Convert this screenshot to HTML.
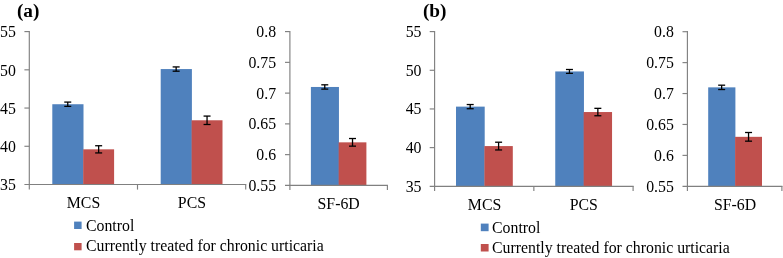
<!DOCTYPE html>
<html><head><meta charset="utf-8"><title>Figure</title>
<style>html,body{margin:0;padding:0;background:#fff;overflow:hidden}svg{display:block}text{font-family:"Liberation Serif","DejaVu Serif",serif;fill:#000}</style>
</head><body>
<svg width="783" height="258" viewBox="0 0 783 258">
<rect width="783" height="258" fill="#fff"/>
<text x="16.90" y="17.30" text-anchor="start" font-size="19.3" font-weight="bold">(a)</text>
<rect x="52.30" y="104.23" width="31.20" height="80.27" fill="#4F81BD"/>
<rect x="83.20" y="149.33" width="30.90" height="35.17" fill="#C0504D"/>
<line x1="67.75" y1="102.09" x2="67.75" y2="106.37" stroke="#000" stroke-width="1.3"/>
<line x1="64.25" y1="102.09" x2="71.25" y2="102.09" stroke="#000" stroke-width="1.3"/>
<line x1="64.25" y1="106.37" x2="71.25" y2="106.37" stroke="#000" stroke-width="1.3"/>
<line x1="98.65" y1="145.74" x2="98.65" y2="152.93" stroke="#000" stroke-width="1.3"/>
<line x1="95.15" y1="145.74" x2="102.15" y2="145.74" stroke="#000" stroke-width="1.3"/>
<line x1="95.15" y1="152.93" x2="102.15" y2="152.93" stroke="#000" stroke-width="1.3"/>
<text x="83.50" y="208.20" text-anchor="middle" font-size="15.8">MCS</text>
<rect x="160.70" y="69.06" width="31.20" height="115.44" fill="#4F81BD"/>
<rect x="191.60" y="120.28" width="30.90" height="64.22" fill="#C0504D"/>
<line x1="176.15" y1="66.92" x2="176.15" y2="71.20" stroke="#000" stroke-width="1.3"/>
<line x1="172.65" y1="66.92" x2="179.65" y2="66.92" stroke="#000" stroke-width="1.3"/>
<line x1="172.65" y1="71.20" x2="179.65" y2="71.20" stroke="#000" stroke-width="1.3"/>
<line x1="207.05" y1="116.08" x2="207.05" y2="124.49" stroke="#000" stroke-width="1.3"/>
<line x1="203.55" y1="116.08" x2="210.55" y2="116.08" stroke="#000" stroke-width="1.3"/>
<line x1="203.55" y1="124.49" x2="210.55" y2="124.49" stroke="#000" stroke-width="1.3"/>
<text x="191.90" y="208.20" text-anchor="middle" font-size="15.8">PCS</text>
<line x1="29.30" y1="31.03" x2="29.30" y2="189.60" stroke="#808080" stroke-width="1.15"/>
<line x1="24.40" y1="184.50" x2="246.27" y2="184.50" stroke="#808080" stroke-width="1.15"/>
<line x1="24.40" y1="31.60" x2="29.30" y2="31.60" stroke="#808080" stroke-width="1.15"/>
<text x="15.90" y="37.40" text-anchor="end" font-size="15.8">55</text>
<line x1="24.40" y1="69.83" x2="29.30" y2="69.83" stroke="#808080" stroke-width="1.15"/>
<text x="15.90" y="75.62" text-anchor="end" font-size="15.8">50</text>
<line x1="24.40" y1="108.05" x2="29.30" y2="108.05" stroke="#808080" stroke-width="1.15"/>
<text x="15.90" y="113.85" text-anchor="end" font-size="15.8">45</text>
<line x1="24.40" y1="146.28" x2="29.30" y2="146.28" stroke="#808080" stroke-width="1.15"/>
<text x="15.90" y="152.08" text-anchor="end" font-size="15.8">40</text>
<text x="15.90" y="190.30" text-anchor="end" font-size="15.8">35</text>
<line x1="137.50" y1="184.50" x2="137.50" y2="189.60" stroke="#808080" stroke-width="1.15"/>
<line x1="245.70" y1="184.50" x2="245.70" y2="189.60" stroke="#808080" stroke-width="1.15"/>
<rect x="310.90" y="86.97" width="28.05" height="98.43" fill="#4F81BD"/>
<rect x="338.65" y="142.34" width="27.75" height="43.06" fill="#C0504D"/>
<line x1="324.77" y1="84.81" x2="324.77" y2="89.12" stroke="#000" stroke-width="1.3"/>
<line x1="321.27" y1="84.81" x2="328.27" y2="84.81" stroke="#000" stroke-width="1.3"/>
<line x1="321.27" y1="89.12" x2="328.27" y2="89.12" stroke="#000" stroke-width="1.3"/>
<line x1="352.52" y1="138.52" x2="352.52" y2="146.15" stroke="#000" stroke-width="1.3"/>
<line x1="349.02" y1="138.52" x2="356.02" y2="138.52" stroke="#000" stroke-width="1.3"/>
<line x1="349.02" y1="146.15" x2="356.02" y2="146.15" stroke="#000" stroke-width="1.3"/>
<text x="338.65" y="209.40" text-anchor="middle" font-size="15.8">SF-6D</text>
<line x1="289.90" y1="31.03" x2="289.90" y2="190.10" stroke="#808080" stroke-width="1.15"/>
<line x1="285.00" y1="185.40" x2="387.97" y2="185.40" stroke="#808080" stroke-width="1.15"/>
<line x1="285.00" y1="31.60" x2="289.90" y2="31.60" stroke="#808080" stroke-width="1.15"/>
<text x="276.10" y="37.00" text-anchor="end" font-size="15.8">0.8</text>
<line x1="285.00" y1="62.36" x2="289.90" y2="62.36" stroke="#808080" stroke-width="1.15"/>
<text x="276.10" y="67.76" text-anchor="end" font-size="15.8">0.75</text>
<line x1="285.00" y1="93.12" x2="289.90" y2="93.12" stroke="#808080" stroke-width="1.15"/>
<text x="276.10" y="98.52" text-anchor="end" font-size="15.8">0.7</text>
<line x1="285.00" y1="123.88" x2="289.90" y2="123.88" stroke="#808080" stroke-width="1.15"/>
<text x="276.10" y="129.28" text-anchor="end" font-size="15.8">0.65</text>
<line x1="285.00" y1="154.64" x2="289.90" y2="154.64" stroke="#808080" stroke-width="1.15"/>
<text x="276.10" y="160.04" text-anchor="end" font-size="15.8">0.6</text>
<text x="276.10" y="190.80" text-anchor="end" font-size="15.8">0.55</text>
<line x1="387.40" y1="185.40" x2="387.40" y2="190.10" stroke="#808080" stroke-width="1.15"/>
<rect x="74.10" y="221.60" width="7.50" height="7.40" fill="#4F81BD"/>
<text x="86.00" y="230.50" text-anchor="start" font-size="15.8">Control</text>
<rect x="74.10" y="243.00" width="7.50" height="7.30" fill="#C0504D"/>
<text x="86.00" y="251.20" text-anchor="start" font-size="15.8">Currently treated for chronic urticaria</text>
<text x="422.90" y="17.30" text-anchor="start" font-size="19.3" font-weight="bold">(b)</text>
<rect x="456.00" y="106.63" width="28.70" height="79.67" fill="#4F81BD"/>
<rect x="484.40" y="146.08" width="28.40" height="40.22" fill="#C0504D"/>
<line x1="470.20" y1="104.54" x2="470.20" y2="108.72" stroke="#000" stroke-width="1.3"/>
<line x1="466.70" y1="104.54" x2="473.70" y2="104.54" stroke="#000" stroke-width="1.3"/>
<line x1="466.70" y1="108.72" x2="473.70" y2="108.72" stroke="#000" stroke-width="1.3"/>
<line x1="498.60" y1="142.21" x2="498.60" y2="149.95" stroke="#000" stroke-width="1.3"/>
<line x1="495.10" y1="142.21" x2="502.10" y2="142.21" stroke="#000" stroke-width="1.3"/>
<line x1="495.10" y1="149.95" x2="502.10" y2="149.95" stroke="#000" stroke-width="1.3"/>
<text x="484.55" y="209.90" text-anchor="middle" font-size="15.8">MCS</text>
<rect x="555.25" y="71.44" width="28.70" height="114.86" fill="#4F81BD"/>
<rect x="583.65" y="112.04" width="28.40" height="74.26" fill="#C0504D"/>
<line x1="569.45" y1="69.50" x2="569.45" y2="73.37" stroke="#000" stroke-width="1.3"/>
<line x1="565.95" y1="69.50" x2="572.95" y2="69.50" stroke="#000" stroke-width="1.3"/>
<line x1="565.95" y1="73.37" x2="572.95" y2="73.37" stroke="#000" stroke-width="1.3"/>
<line x1="597.85" y1="108.33" x2="597.85" y2="115.76" stroke="#000" stroke-width="1.3"/>
<line x1="594.35" y1="108.33" x2="601.35" y2="108.33" stroke="#000" stroke-width="1.3"/>
<line x1="594.35" y1="115.76" x2="601.35" y2="115.76" stroke="#000" stroke-width="1.3"/>
<text x="583.80" y="209.90" text-anchor="middle" font-size="15.8">PCS</text>
<line x1="434.60" y1="31.03" x2="434.60" y2="191.00" stroke="#808080" stroke-width="1.15"/>
<line x1="429.70" y1="186.30" x2="633.68" y2="186.30" stroke="#808080" stroke-width="1.15"/>
<line x1="429.70" y1="31.60" x2="434.60" y2="31.60" stroke="#808080" stroke-width="1.15"/>
<text x="421.50" y="37.10" text-anchor="end" font-size="15.8">55</text>
<line x1="429.70" y1="70.28" x2="434.60" y2="70.28" stroke="#808080" stroke-width="1.15"/>
<text x="421.50" y="75.78" text-anchor="end" font-size="15.8">50</text>
<line x1="429.70" y1="108.95" x2="434.60" y2="108.95" stroke="#808080" stroke-width="1.15"/>
<text x="421.50" y="114.45" text-anchor="end" font-size="15.8">45</text>
<line x1="429.70" y1="147.62" x2="434.60" y2="147.62" stroke="#808080" stroke-width="1.15"/>
<text x="421.50" y="153.12" text-anchor="end" font-size="15.8">40</text>
<text x="421.50" y="191.80" text-anchor="end" font-size="15.8">35</text>
<line x1="533.85" y1="186.30" x2="533.85" y2="191.00" stroke="#808080" stroke-width="1.15"/>
<line x1="633.10" y1="186.30" x2="633.10" y2="191.00" stroke="#808080" stroke-width="1.15"/>
<rect x="708.20" y="87.36" width="27.20" height="98.94" fill="#4F81BD"/>
<rect x="735.10" y="136.83" width="26.90" height="49.47" fill="#C0504D"/>
<line x1="721.65" y1="85.19" x2="721.65" y2="89.52" stroke="#000" stroke-width="1.3"/>
<line x1="718.15" y1="85.19" x2="725.15" y2="85.19" stroke="#000" stroke-width="1.3"/>
<line x1="718.15" y1="89.52" x2="725.15" y2="89.52" stroke="#000" stroke-width="1.3"/>
<line x1="748.55" y1="132.50" x2="748.55" y2="141.16" stroke="#000" stroke-width="1.3"/>
<line x1="745.05" y1="132.50" x2="752.05" y2="132.50" stroke="#000" stroke-width="1.3"/>
<line x1="745.05" y1="141.16" x2="752.05" y2="141.16" stroke="#000" stroke-width="1.3"/>
<text x="735.10" y="210.30" text-anchor="middle" font-size="15.8">SF-6D</text>
<line x1="687.40" y1="31.12" x2="687.40" y2="191.00" stroke="#808080" stroke-width="1.15"/>
<line x1="682.50" y1="186.30" x2="782.48" y2="186.30" stroke="#808080" stroke-width="1.15"/>
<line x1="682.50" y1="31.70" x2="687.40" y2="31.70" stroke="#808080" stroke-width="1.15"/>
<text x="673.80" y="36.90" text-anchor="end" font-size="15.8">0.8</text>
<line x1="682.50" y1="62.62" x2="687.40" y2="62.62" stroke="#808080" stroke-width="1.15"/>
<text x="673.80" y="67.82" text-anchor="end" font-size="15.8">0.75</text>
<line x1="682.50" y1="93.54" x2="687.40" y2="93.54" stroke="#808080" stroke-width="1.15"/>
<text x="673.80" y="98.74" text-anchor="end" font-size="15.8">0.7</text>
<line x1="682.50" y1="124.46" x2="687.40" y2="124.46" stroke="#808080" stroke-width="1.15"/>
<text x="673.80" y="129.66" text-anchor="end" font-size="15.8">0.65</text>
<line x1="682.50" y1="155.38" x2="687.40" y2="155.38" stroke="#808080" stroke-width="1.15"/>
<text x="673.80" y="160.58" text-anchor="end" font-size="15.8">0.6</text>
<text x="673.80" y="191.50" text-anchor="end" font-size="15.8">0.55</text>
<line x1="781.90" y1="186.30" x2="781.90" y2="191.00" stroke="#808080" stroke-width="1.15"/>
<rect x="480.80" y="223.60" width="7.80" height="7.60" fill="#4F81BD"/>
<text x="492.05" y="232.70" text-anchor="start" font-size="15.8">Control</text>
<rect x="480.80" y="244.00" width="7.80" height="7.50" fill="#C0504D"/>
<text x="492.05" y="252.90" text-anchor="start" font-size="15.8">Currently treated for chronic urticaria</text>
</svg>
</body></html>
